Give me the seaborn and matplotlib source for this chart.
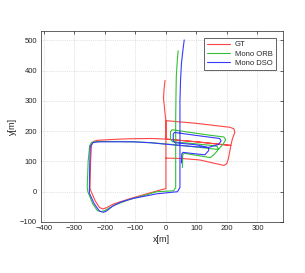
import matplotlib
matplotlib.use("Agg")
import matplotlib.pyplot as plt
import seaborn as sns
import pandas as pd

# Ground truth trajectory
gt_x = [-3, -6, -8, -5, -2, 0, 0, 0, 0, 0,
        -10, -63, -118, -173, -195, -207, -218, -232, -247, -249, -247, -244, -238, -225, -150, -118, -50, 0,
        100, 213,
        218, 226, 223, 210, 100, 0,
        0,
        100, 213,
        205, 199, 190, 150, 111, 50, 0]
gt_y = [368, 340, 310, 280, 250, 235, 174, 111, 60, 10,
        8, -7, -23, -41, -53, -57, -52, -30, 5, 12, 100, 155, 166, 170, 174, 175, 176, 174,
        165, 153,
        175, 196, 208, 213, 226, 235,
        174,
        165, 153,
        110, 92, 87, 96, 105, 110, 111]

# Mono ORB trajectory
orb_x = [40, 37, 34, 33, 32, 32, 32, 25, -30, -70, -120, -170, -200, -212, -225, -240, -256, -258, -255, -250,
         -244, -225, -150, -107, -50, 0, 80, 150, 172,
         188, 196, 190, 150, 80, 20, 15, 15, 22, 80, 150, 168, 172,
         160, 146, 120, 60, 55, 54]
orb_y = [466, 430, 380, 320, 240, 100, 14, 3, 0, -12, -26, -45, -62, -66, -62, -40, 0, 15, 100, 152,
         163, 166, 166, 165, 162, 158, 150, 142, 140,
         158, 172, 181, 186, 196, 205, 198, 174, 165, 160, 153, 150, 140,
         125, 113, 117, 127, 122, 80]

# Mono DSO trajectory
dso_x = [60, 56, 51, 48, 46, 46, 46, 46, 38, -30, -70, -107, -150, -175, -195, -205, -218, -235, -251, -250,
         -248, -238, -216, -107, -50, 0, 80, 138,
         172, 181, 176, 100, 28, 24, 24, 30, 100, 140,
         140, 128, 90, 56, 52, 51]
dso_y = [502, 470, 425, 370, 300, 200, 100, 14, 0, -7, -15, -22, -35, -48, -64, -68, -64, -40, -5, 80,
         150, 163, 165, 165, 162, 157, 150, 146,
         156, 168, 176, 186, 196, 190, 168, 162, 155, 146,
         136, 122, 126, 130, 125, 95]

series_names = ["GT", "Mono ORB", "Mono DSO"]
series_colors = ["#ff4545", "#35c035", "#3838ff"]

x_ticks = [-400, -300, -200, -100, 0, 100, 200, 300]
y_ticks = [-100, 0, 100, 200, 300, 400, 500]

sns.set_style("white")
plt.rcParams["font.family"] = ["Liberation Sans", "DejaVu Sans"]

fig = plt.figure(figsize=(3.05, 2.73), dpi=100)
ax = fig.add_axes([0.133, 0.187, 0.794, 0.699])

frames = []
for name, xs, ys in zip(series_names, [gt_x, orb_x, dso_x], [gt_y, orb_y, dso_y]):
    frames.append(pd.DataFrame({"x": xs, "y": ys, "series": name, "order": range(len(xs))}))
df = pd.concat(frames, ignore_index=True)

for name, col in zip(series_names, series_colors):
    sub = df[df["series"] == name]
    sns.lineplot(data=sub, x="x", y="y", sort=False, estimator=None, color=col,
                 linewidth=0.8, label=name, ax=ax)

ax.set_xlim(-411, 383)
ax.set_ylim(-100, 531)
ax.set_xticks(x_ticks)
ax.set_yticks(y_ticks)
ax.tick_params(direction="in", length=2, width=0.5, labelsize=5.5, colors="#262626",
               top=True, right=True, pad=2.5)
ax.grid(True, linestyle=":", linewidth=0.5, color="#c8c8c8")
for sp in ax.spines.values():
    sp.set_linewidth(0.5)
    sp.set_color("#262626")
ax.set_xlabel("x[m]", fontsize=6.5, color="#262626", labelpad=2)
ax.set_ylabel("y[m]", fontsize=6.5, color="#262626", labelpad=2)

leg = ax.legend(loc="upper right", fontsize=5.5, frameon=True, fancybox=False,
                edgecolor="#262626", framealpha=1, handlelength=3, borderaxespad=0.9,
                labelspacing=0.25, borderpad=0.4, handletextpad=0.6)
leg.get_frame().set_linewidth(0.5)

fig.savefig("out.png", dpi=100, facecolor="white")
